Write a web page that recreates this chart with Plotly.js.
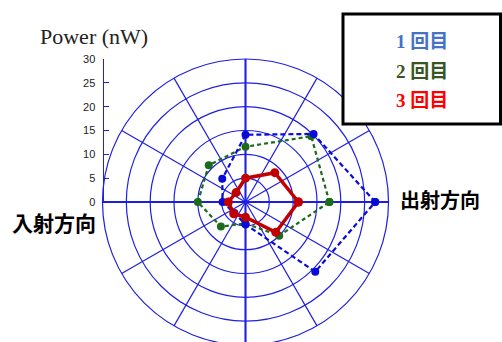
<!DOCTYPE html>
<html><head><meta charset="utf-8">
<script src="https://cdn.plot.ly/plotly-3.0.1.min.js"></script>
<style>html,body{margin:0;padding:0;overflow:hidden;background:#fff}</style>
</head><body><div id="chart" style="width:502px;height:345px"></div>
<script>
// Directions (degrees) and power values (nW)
const angles = [0, 45, 90, 135, 180, 225, 270, 315];
const run1 = [27.2, 20.2, 14.1, 6.9, 4.8, 3.3, 4.7, 20.7];
const run2 = [17.6, 19.5, 11.6, 10.9, 10.0, 7.3, 4.5, 10.0];
const run3 = [11.1, 8.7, 5.0, 2.8, 3.6, 3.5, 3.2, 9.0];
const seriesNames = ['1 回目', '2 回目', '3 回目'];
const radialTicks = [0, 5, 10, 15, 20, 25, 30];

const W = 502, H = 345, T = 59, B = 0;
const ph = H - T - B;
const px = x => x / W;
const py = y => (H - y) / ph;
const cx = 245.5, R = 143;

function closed(a) { return a.concat([a[0]]); }
const grid = '#1f1fe0';

const traces = [
  {type:'scatterpolar', r: closed(run2), theta: closed(angles), mode:'lines+markers',
   line:{color:'#1a6b1a', width:2.2, dash:'4px,3px'}, marker:{color:'#1a6b1a', size:8}, showlegend:false, name:seriesNames[1]},
  {type:'scatterpolar', r: closed(run1), theta: closed(angles), mode:'lines+markers',
   line:{color:'#0a0ad8', width:2.2, dash:'5px,3px'}, marker:{color:'#0a0ad8', size:8}, showlegend:false, name:seriesNames[0]},
  {type:'scatterpolar', r: closed(run3), theta: closed(angles), mode:'lines+markers',
   line:{color:'#c00000', width:3.5}, marker:{color:'#c00000', size:9}, showlegend:false, name:seriesNames[2]},
  {type:'scatter', x:[], y:[], xaxis:'x', yaxis:'y', showlegend:false, hoverinfo:'skip'}
];

const layout = {
  width: W, height: H,
  margin:{l:0, r:0, t:T, b:B, pad:0},
  paper_bgcolor:'#fff', plot_bgcolor:'rgba(0,0,0,0)',
  showlegend:false,
  polar:{
    domain:{x:[px(cx - R), px(cx + R)], y:[0, 1]},
    bgcolor:'rgba(0,0,0,0)',
    radialaxis:{range:[0,30], tickvals:radialTicks, showticklabels:false, ticks:'',
      showline:false, gridcolor:grid, gridwidth:1.2, angle:0},
    angularaxis:{tickmode:'linear', dtick:30, showticklabels:false, ticks:'',
      showline:true, linecolor:grid, linewidth:1.2, gridcolor:grid, gridwidth:1.2, rotation:0, direction:'counterclockwise'}
  },
  xaxis:{domain:[px(cx - R), px(cx + R)], visible:false, range:[0,1], fixedrange:true},
  yaxis:{domain:[0.5, 1], range:[0,30], anchor:'free', position:px(102.5), side:'left',
    tickvals:radialTicks, ticks:'inside', ticklen:5, tickcolor:grid, tickwidth:1.2, ticklabelstandoff:5,
    showline:true, linecolor:grid, linewidth:1.5, showgrid:false, zeroline:false,
    tickfont:{family:'Liberation Sans, Arial', size:11, color:'#222'}},
  shapes:[
    {type:'line', xref:'paper', yref:'paper', x0:px(cx - R), x1:px(cx + R), y0:py(202), y1:py(202), line:{color:grid, width:2}, layer:'below'},
    {type:'line', xref:'paper', yref:'paper', x0:px(cx), x1:px(cx), y0:py(59), y1:py(345), line:{color:grid, width:2}, layer:'below'},
    {type:'rect', xref:'paper', yref:'paper', x0:px(343), x1:px(500.5), y0:py(124), y1:py(14), line:{color:'#000', width:3}, fillcolor:'#fff', layer:'above'}
  ],
  annotations:[
    {text:'Power (nW)', xref:'paper', yref:'paper', x:px(93.5), y:py(36), xanchor:'center', yanchor:'middle', showarrow:false,
     font:{family:'Liberation Serif, Times New Roman, serif', size:22, color:'#222'}},
    {text:'<b>入射方向</b>', xref:'paper', yref:'paper', x:px(53.5), y:py(222), xanchor:'center', yanchor:'middle', showarrow:false,
     font:{family:'Noto Sans CJK JP', size:21, color:'#000'}},
    {text:'<b>出射方向</b>', xref:'paper', yref:'paper', x:px(440), y:py(199.5), xanchor:'center', yanchor:'middle', showarrow:false,
     font:{family:'Noto Sans CJK JP', size:20, color:'#000'}},
    {text:'<b>'+seriesNames[0]+'</b>', xref:'paper', yref:'paper', x:px(421.7), y:py(41.7), xanchor:'center', yanchor:'middle', showarrow:false,
     font:{family:'Liberation Serif, Noto Sans CJK JP', size:19, color:'#4472c4'}},
    {text:'<b>'+seriesNames[1]+'</b>', xref:'paper', yref:'paper', x:px(421.7), y:py(71.7), xanchor:'center', yanchor:'middle', showarrow:false,
     font:{family:'Liberation Serif, Noto Sans CJK JP', size:19, color:'#375623'}},
    {text:'<b>'+seriesNames[2]+'</b>', xref:'paper', yref:'paper', x:px(421.7), y:py(100.7), xanchor:'center', yanchor:'middle', showarrow:false,
     font:{family:'Liberation Serif, Noto Sans CJK JP', size:19, color:'#ff0000'}}
  ]
};

Plotly.newPlot('chart', traces, layout, {staticPlot:true, displayModeBar:false});
</script></body></html>
